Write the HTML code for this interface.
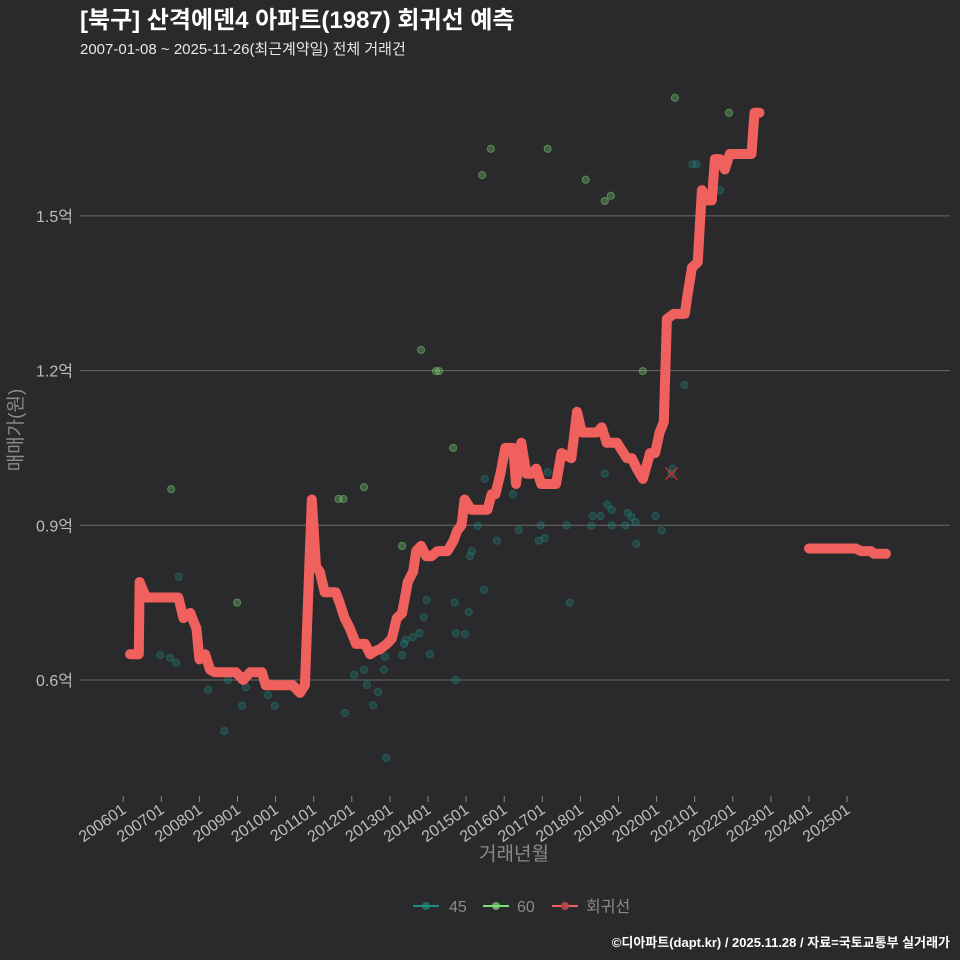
<!DOCTYPE html>
<html><head><meta charset="utf-8"><style>
html,body{margin:0;background:#2a292b;overflow:hidden;width:960px;height:960px;}
svg{display:block;}
svg text{font-family:"Liberation Sans","Noto Sans CJK KR",sans-serif;}
</style></head><body>
<svg id="c" width="960" height="960" xmlns="http://www.w3.org/2000/svg">
<rect width="960" height="960" fill="#2a292b"/>
<text x="80" y="28" fill="#ffffff" font-size="24" font-weight="bold">[북구] 산격에덴4 아파트(1987) 회귀선 예측</text>
<text x="80" y="54" fill="#e8e8e8" font-size="15">2007-01-08 ~ 2025-11-26(최근계약일) 전체 거래건</text>
<g id="grid"></g><g id="yt"></g><g id="xt"></g><g id="pts"></g><g id="ln"></g>
<text transform="translate(22,430) rotate(-90)" text-anchor="middle" fill="#8a8a8a" font-size="19">매매가(원)</text>
<text x="514" y="860" text-anchor="middle" fill="#8a8a8a" font-size="19">거래년월</text>
<g>
<g><line x1="413" y1="906" x2="439" y2="906" stroke="#1f8a80" stroke-width="2"/><circle cx="426" cy="906" r="4" fill="#1f8a80" opacity="0.7"/><text x="449" y="912" fill="#8a8a8a" font-size="16">45</text></g>
<g><line x1="483" y1="906" x2="509" y2="906" stroke="#7ee07a" stroke-width="2"/><circle cx="496" cy="906" r="4" fill="#7ee07a" opacity="0.7"/><text x="517" y="912" fill="#8a8a8a" font-size="16">60</text></g>
<g><line x1="552" y1="906" x2="578" y2="906" stroke="#f0605d" stroke-width="2"/><circle cx="565" cy="906" r="4" fill="#b04a48"/><text x="586" y="912" fill="#8a8a8a" font-size="16">회귀선</text></g>
</g>
<text x="950" y="947" text-anchor="end" fill="#ffffff" font-size="13" font-weight="bold">©디아파트(dapt.kr) / 2025.11.28 / 자료=국토교통부 실거래가</text>
</svg>
<script>
const yTicks=[0.6,0.9,1.2,1.5];
const yTickLabels=["0.6억","0.9억","1.2억","1.5억"];
const xTickYears=[2006,2007,2008,2009,2010,2011,2012,2013,2014,2015,2016,2017,2018,2019,2020,2021,2022,2023,2024,2025];
const xTickLabels=["200601","200701","200801","200901","201001","201101","201201","201301","201401","201501","201601","201701","201801","201901","202001","202101","202201","202301","202401","202501"];
const s45Year=[2006.97,2007.23,2007.39,2007.46,2008.23,2008.65,2008.75,2009.12,2009.22,2009.80,2009.98,2011.82,2012.06,2012.32,2012.40,2012.56,2012.69,2012.84,2012.87,2012.90,2013.32,2013.37,2013.42,2013.60,2013.78,2013.89,2013.97,2014.05,2014.70,2014.73,2014.73,2014.97,2015.07,2015.10,2015.15,2015.31,2015.47,2015.49,2015.81,2016.23,2016.38,2016.91,2016.96,2017.06,2017.14,2017.64,2017.72,2018.29,2018.32,2018.53,2018.64,2018.71,2018.82,2018.82,2019.18,2019.24,2019.34,2019.45,2019.47,2019.97,2020.13,2020.39,2020.42,2020.73,2020.94,2021.05,2021.66];
const s45Val=[0.648,0.643,0.633,0.80,0.581,0.501,0.60,0.55,0.586,0.571,0.55,0.536,0.61,0.62,0.59,0.551,0.577,0.62,0.645,0.449,0.648,0.67,0.678,0.683,0.691,0.722,0.755,0.65,0.75,0.691,0.60,0.689,0.732,0.84,0.85,0.899,0.775,0.99,0.87,0.96,0.891,0.87,0.90,0.875,1.003,0.90,0.75,0.899,0.918,0.918,1.0,0.94,0.93,0.90,0.90,0.924,0.916,0.906,0.864,0.918,0.89,1.0,1.01,1.172,1.60,1.60,1.55];
const s60Year=[2007.26,2008.99,2011.65,2011.78,2012.32,2013.32,2013.82,2014.21,2014.29,2014.66,2015.42,2015.65,2017.14,2018.14,2018.64,2018.80,2019.64,2020.48,2021.90];
const s60Val=[0.97,0.75,0.951,0.951,0.974,0.86,1.24,1.199,1.199,1.05,1.579,1.63,1.63,1.57,1.529,1.539,1.199,1.729,1.70];
const regYear=[2006.18,2006.41,2006.43,2006.6,2006.65,2007.45,2007.58,2007.76,2007.81,2007.92,2008.0,2008.15,2008.28,2008.41,2008.96,2009.15,2009.33,2009.64,2009.74,2010.45,2010.64,2010.77,2010.95,2011.06,2011.16,2011.29,2011.58,2011.68,2011.81,2011.95,2012.11,2012.35,2012.48,2012.58,2012.74,2012.92,2013.05,2013.18,2013.32,2013.47,2013.61,2013.69,2013.82,2013.95,2014.09,2014.25,2014.51,2014.67,2014.77,2014.88,2014.96,2015.14,2015.56,2015.67,2015.77,2015.9,2016.03,2016.24,2016.31,2016.45,2016.58,2016.71,2016.84,2016.97,2017.36,2017.5,2017.76,2017.83,2017.91,2018.04,2018.3,2018.43,2018.56,2018.69,2018.96,2019.22,2019.35,2019.48,2019.56,2019.64,2019.83,2019.96,2020.08,2020.19,2020.27,2020.45,2020.74,2020.82,2020.93,2021.08,2021.19,2021.32,2021.45,2021.53,2021.66,2021.79,2021.92,2022.49,2022.57,2022.7];
const regVal=[0.65,0.65,0.79,0.76,0.76,0.76,0.72,0.73,0.72,0.70,0.64,0.65,0.62,0.615,0.615,0.60,0.615,0.615,0.59,0.59,0.575,0.59,0.95,0.82,0.81,0.77,0.77,0.75,0.72,0.70,0.67,0.67,0.65,0.655,0.66,0.67,0.68,0.72,0.73,0.79,0.81,0.85,0.86,0.84,0.84,0.85,0.85,0.87,0.89,0.90,0.95,0.93,0.93,0.96,0.96,1.00,1.05,1.05,0.98,1.06,1.00,1.00,1.01,0.98,0.98,1.04,1.03,1.07,1.12,1.08,1.08,1.08,1.09,1.06,1.06,1.03,1.03,1.01,1.00,0.99,1.04,1.04,1.08,1.10,1.30,1.31,1.31,1.35,1.40,1.41,1.55,1.53,1.53,1.61,1.61,1.59,1.62,1.62,1.70,1.70];
const reg2Year=[2017.9,2024.0,2025.23,2025.36,2025.62,2025.7,2026.02];
const reg2Val=[null,0.855,0.855,0.85,0.85,0.845,0.845];
const markYear=[2020.39], markVal=[1.0];
const NS="http://www.w3.org/2000/svg";
const X=t=>123.2+(t-2006)*38.1;
const Y=v=>680-(v-0.6)*515.7;
function mk(tag,attrs,parent){const e=document.createElementNS(NS,tag);for(const k in attrs)e.setAttribute(k,attrs[k]);document.getElementById(parent).appendChild(e);return e;}
yTicks.forEach((v,i)=>{
  const l=mk('line',{x1:80,x2:950,y1:Y(v),y2:Y(v),stroke:'#6a6a6a','stroke-width':1},'grid');
  
  
  const t=mk('text',{x:73,y:Y(v)+6,'text-anchor':'end',fill:'#bdbdbd','font-size':16},'yt');
  t.textContent=yTickLabels[i];
  
  
});
xTickYears.forEach((yr,i)=>{
  const x=X(yr);
  const tk=mk('line',{x1:x,x2:x,y1:796,y2:802,stroke:'#8a8a8a'},'xt');
  
  
  const t=mk('text',{x:0,y:0,'text-anchor':'end',fill:'#bdbdbd','font-size':16,transform:`translate(${x+4},${812}) rotate(-35)`},'xt');
  t.textContent=xTickLabels[i];
  
  
});
s45Year.forEach((yr,i)=>{
  const c=mk('circle',{cx:X(yr),cy:Y(s45Val[i]),r:3.6,fill:'#1f8a80','fill-opacity':0.3,stroke:'#1f8a80','stroke-opacity':0.45},'pts');
  
  
});
s60Year.forEach((yr,i)=>{
  const c=mk('circle',{cx:X(yr),cy:Y(s60Val[i]),r:3.6,fill:'#7ee07a','fill-opacity':0.3,stroke:'#7ee07a','stroke-opacity':0.45},'pts');
  
  
});
markYear.forEach((yr,i)=>{
  const x=X(yr),y=Y(markVal[i]);
  const m=mk('path',{d:`M${x-6},${y-6}L${x+6},${y+6}M${x-6},${y+6}L${x+6},${y-6}`,stroke:'#c0302c','stroke-width':1.5},'pts');
  
  
});
function path(xs,vs){let d='',s=true;xs.forEach((t,i)=>{if(vs[i]==null){s=true;return;}d+=(s?'M':'L')+X(t).toFixed(1)+','+Y(vs[i]).toFixed(1);s=false;});return d;}
const p1=mk('path',{d:path(regYear,regVal),fill:'none',stroke:'#f0605d','stroke-width':10,'stroke-linejoin':'round','stroke-linecap':'round'},'ln');


const p2=mk('path',{d:path(reg2Year,reg2Val),fill:'none',stroke:'#f0605d','stroke-width':10,'stroke-linejoin':'round','stroke-linecap':'round'},'ln');


</script>
</body></html>
